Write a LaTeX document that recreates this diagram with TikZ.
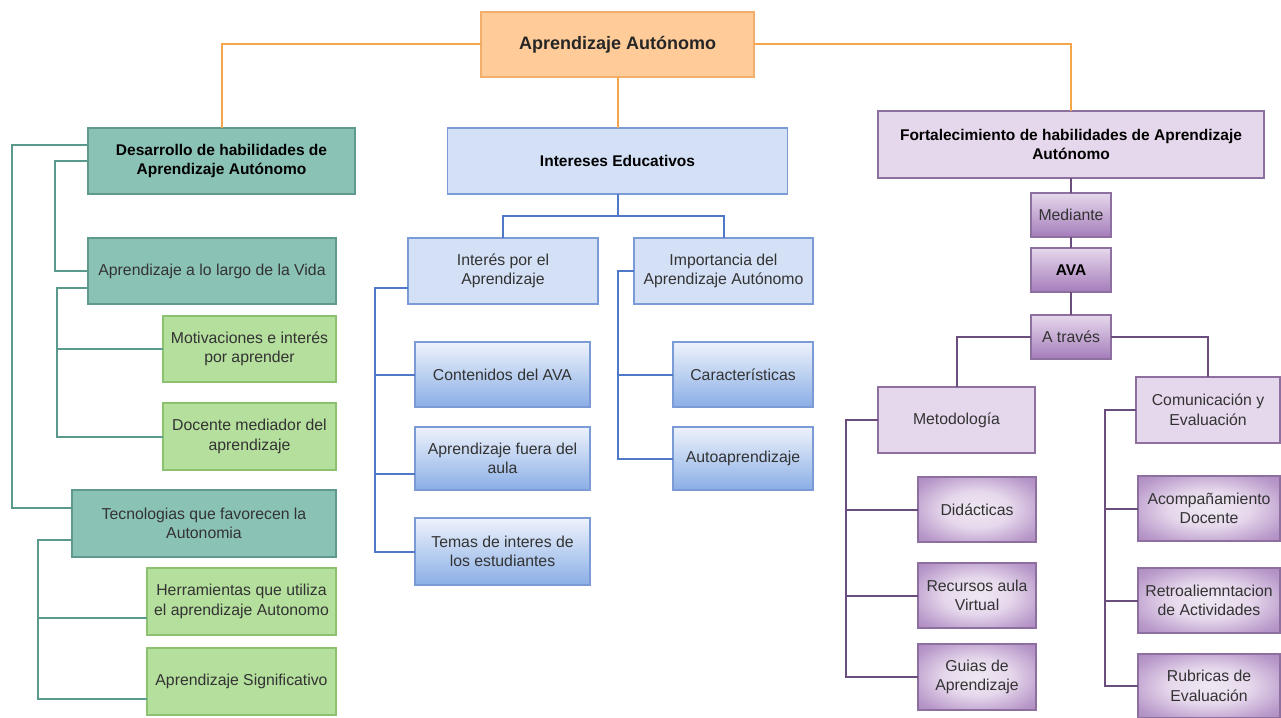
\documentclass[tikz,border=0pt]{standalone}
\usepackage{fontspec}
\setmainfont{Liberation Sans}
\usepackage{xcolor}
\usepackage{tikz}
\usetikzlibrary{positioning}

\definecolor{naranja}{HTML}{F5A54A}
\definecolor{naranjafill}{HTML}{FFCC99}
\definecolor{naranjaborde}{HTML}{F2AE6A}
\definecolor{teal1}{HTML}{8AC2B5}
\definecolor{tealborde}{HTML}{5E9B8E}
\definecolor{teallinea}{HTML}{5A9A8C}
\definecolor{verde1}{HTML}{B5DF9D}
\definecolor{verdeborde}{HTML}{8CC26F}
\definecolor{azul1}{HTML}{D3E0F5}
\definecolor{azulborde}{HTML}{7A9BD6}
\definecolor{azullinea}{HTML}{4F78C8}
\definecolor{azuloscuro}{HTML}{8AAEE6}
\definecolor{lila1}{HTML}{E6D8EC}
\definecolor{lilaclaro}{HTML}{EFE8F2}
\definecolor{lilaborde}{HTML}{8D6FA0}
\definecolor{lilalinea}{HTML}{6B4E7E}
\definecolor{lilaoscuro}{HTML}{A47CBA}
\definecolor{texto}{HTML}{333333}

\pgfdeclareradialshading{lilaradial}{\pgfpoint{0bp}{0bp}}{color(0bp)=(lilaclaro); color(14bp)=(lila1); color(30bp)=(lilaoscuro!70!lila1); color(42bp)=(lilaoscuro); color(50bp)=(lilaoscuro)}

\begin{document}
\begin{tikzpicture}[
    x=1pt, y=-1pt,
    font=\fontsize{15.8}{19.5}\selectfont,
    caja/.style={rectangle, draw, line width=1.5pt, align=center, inner sep=2pt, outer sep=0pt, text=texto},
    sz/.style 2 args={minimum width=#1pt, minimum height=#2pt},
    negrita/.style={font=\fontsize{15.5}{19.5}\selectfont\bfseries, text=black},
    topbox/.style={caja, fill=naranjafill, draw=naranjaborde, font=\fontsize{18}{21}\selectfont\bfseries, text=black!85},
    tealbox/.style={caja, fill=teal1, draw=tealborde},
    greenbox/.style={caja, fill=verde1, draw=verdeborde},
    bluebox/.style={caja, fill=azul1, draw=azulborde},
    bluegrad/.style={caja, draw=azulborde, top color=azul1!40!white, middle color=azul1, bottom color=azuloscuro},
    lilabox/.style={caja, fill=lila1, draw=lilaborde},
    lilagrad/.style={caja, draw=lilaborde, top color=lila1, bottom color=lilaoscuro, sz={80}{44}},
    lilaradial/.style={caja, draw=lilaborde, shading=lilaradial},
    oline/.style={draw=naranja, line width=2pt},
    tline/.style={draw=teallinea, line width=2pt},
    bline/.style={draw=azullinea, line width=2pt},
    lline/.style={draw=lilalinea, line width=2pt}
]
\useasboundingbox (0,0) rectangle (1281,717);

% Raiz
\node [topbox, sz={273}{65}] (top) at (617.5,44.5) {Aprendizaje Autónomo};

% Rama izquierda
\node [tealbox, negrita, sz={267}{66}] (desa) at (221.5,161) {Desarrollo de habilidades de\\Aprendizaje Autónomo};
\node [tealbox, sz={248}{66}] (vida) at (212,271) {Aprendizaje a lo largo de la Vida};
\node [greenbox, sz={173}{66}] (motiv) at (249.5,349) {Motivaciones e interés\\por aprender};
\node [greenbox, sz={173}{67}] (doc) at (249.5,436.5) {Docente mediador del\\aprendizaje};
\node [tealbox, sz={264}{67}] (tecno) at (204,523.5) {Tecnologias que favorecen la\\Autonomia};
\node [greenbox, sz={189}{67}] (herr) at (241.5,601.5) {Herramientas que utiliza\\el aprendizaje Autonomo};
\node [greenbox, sz={189}{67}] (sig) at (241.5,681.5) {Aprendizaje Significativo};

% Rama central
\node [bluebox, negrita, sz={340}{66}] (inter) at (617.5,161) {Intereses Educativos};
\node [bluebox, sz={190}{66}] (interes) at (503,271) {Interés por el\\Aprendizaje};
\node [bluebox, sz={179}{66}] (impo) at (723.5,271) {Importancia del\\Aprendizaje Autónomo};
\node [bluegrad, sz={175}{65}] (cont) at (502.5,374.5) {Contenidos del AVA};
\node [bluegrad, sz={175}{63}, below=20pt of cont] (fuera) {Aprendizaje fuera del\\aula};
\node [bluegrad, sz={175}{67}, below=28pt of fuera] (temas) {Temas de interes de\\los estudiantes};
\node [bluegrad, sz={140}{65}] (carac) at (743,374.5) {Características};
\node [bluegrad, sz={140}{63}, below=20pt of carac] (auto) {Autoaprendizaje};

% Rama derecha
\node [lilabox, negrita, sz={386}{67}] (forta) at (1071,144.5) {Fortalecimiento de habilidades de Aprendizaje\\Autónomo};
\node [lilagrad] (med) at (1071,215) {Mediante};
\node [lilagrad, negrita, below=11pt of med] (ava) {AVA};
\node [lilagrad, below=23pt of ava] (atr) {A través};
\node [lilabox, sz={157}{66}] (meto) at (956.5,420) {Metodología};
\node [lilabox, sz={144}{66}] (comu) at (1208,410) {Comunicación y\\Evaluación};
\node [lilaradial, sz={118}{65}] (dida) at (977,509.5) {Didácticas};
\node [lilaradial, sz={118}{65}] (recu) at (977,595.5) {Recursos aula\\Virtual};
\node [lilaradial, sz={118}{66}] (guia) at (977,677) {Guias de\\Aprendizaje};
\node [lilaradial, sz={142}{65}] (acom) at (1209,508.5) {Acompañamiento\\Docente};
\node [lilaradial, sz={142}{65}] (retro) at (1209,600.5) {Retroaliemntacion\\de Actividades};
\node [lilaradial, sz={142}{64}] (rubr) at (1209,686) {Rubricas de\\Evaluación};

% Conectores naranja
\draw [oline] (top.west) -| (desa.north);
\draw [oline] (top.east) -| (forta.north);
\draw [oline] (top.south) -- (inter.north);

% Conectores verde azulado
\draw [tline] ([yshift=16pt]desa.west) -- ++(-76,0) |- ([yshift=16pt]tecno.west);
\draw [tline] (desa.west) -- ++(-33,0) |- (vida.west);
\draw [tline] ([yshift=-17pt]vida.west) -- ++(-31,0) |- (doc.west);
\draw [tline] (motiv.west) -- ++(-106,0);
\draw [tline] ([yshift=-16pt]tecno.west) -- ++(-34,0) |- ([yshift=-17pt]sig.west);
\draw [tline] ([yshift=-16pt]herr.west) -- ++(-109,0);

% Conectores azules
\draw [bline] (inter.south) -- ++(0,22) -| (interes.north);
\draw [bline] (inter.south) -- ++(0,22) -| (impo.north);
\draw [bline] ([yshift=-17pt]interes.west) -- ++(-33,0) |- (temas.west);
\draw [bline] (cont.west) -- ++(-40,0);
\draw [bline] ([yshift=-15pt]fuera.west) -- ++(-40,0);
\draw [bline] (impo.west) -- ++(-16,0) |- (auto.west);
\draw [bline] (carac.west) -- ++(-55,0);

% Conectores morados
\draw [lline] (forta.south) -- (med.north);
\draw [lline] (med.south) -- (ava.north);
\draw [lline] (ava.south) -- (atr.north);
\draw [lline] (atr.west) -| (meto.north);
\draw [lline] (atr.east) -| (comu.north);
\draw [lline] (meto.west) -- ++(-32,0) |- (guia.west);
\draw [lline] (dida.west) -- ++(-72,0);
\draw [lline] (recu.west) -- ++(-72,0);
\draw [lline] (comu.west) -- ++(-31,0) |- (rubr.west);
\draw [lline] (acom.west) -- ++(-33,0);
\draw [lline] (retro.west) -- ++(-33,0);
\end{tikzpicture}
\end{document}
